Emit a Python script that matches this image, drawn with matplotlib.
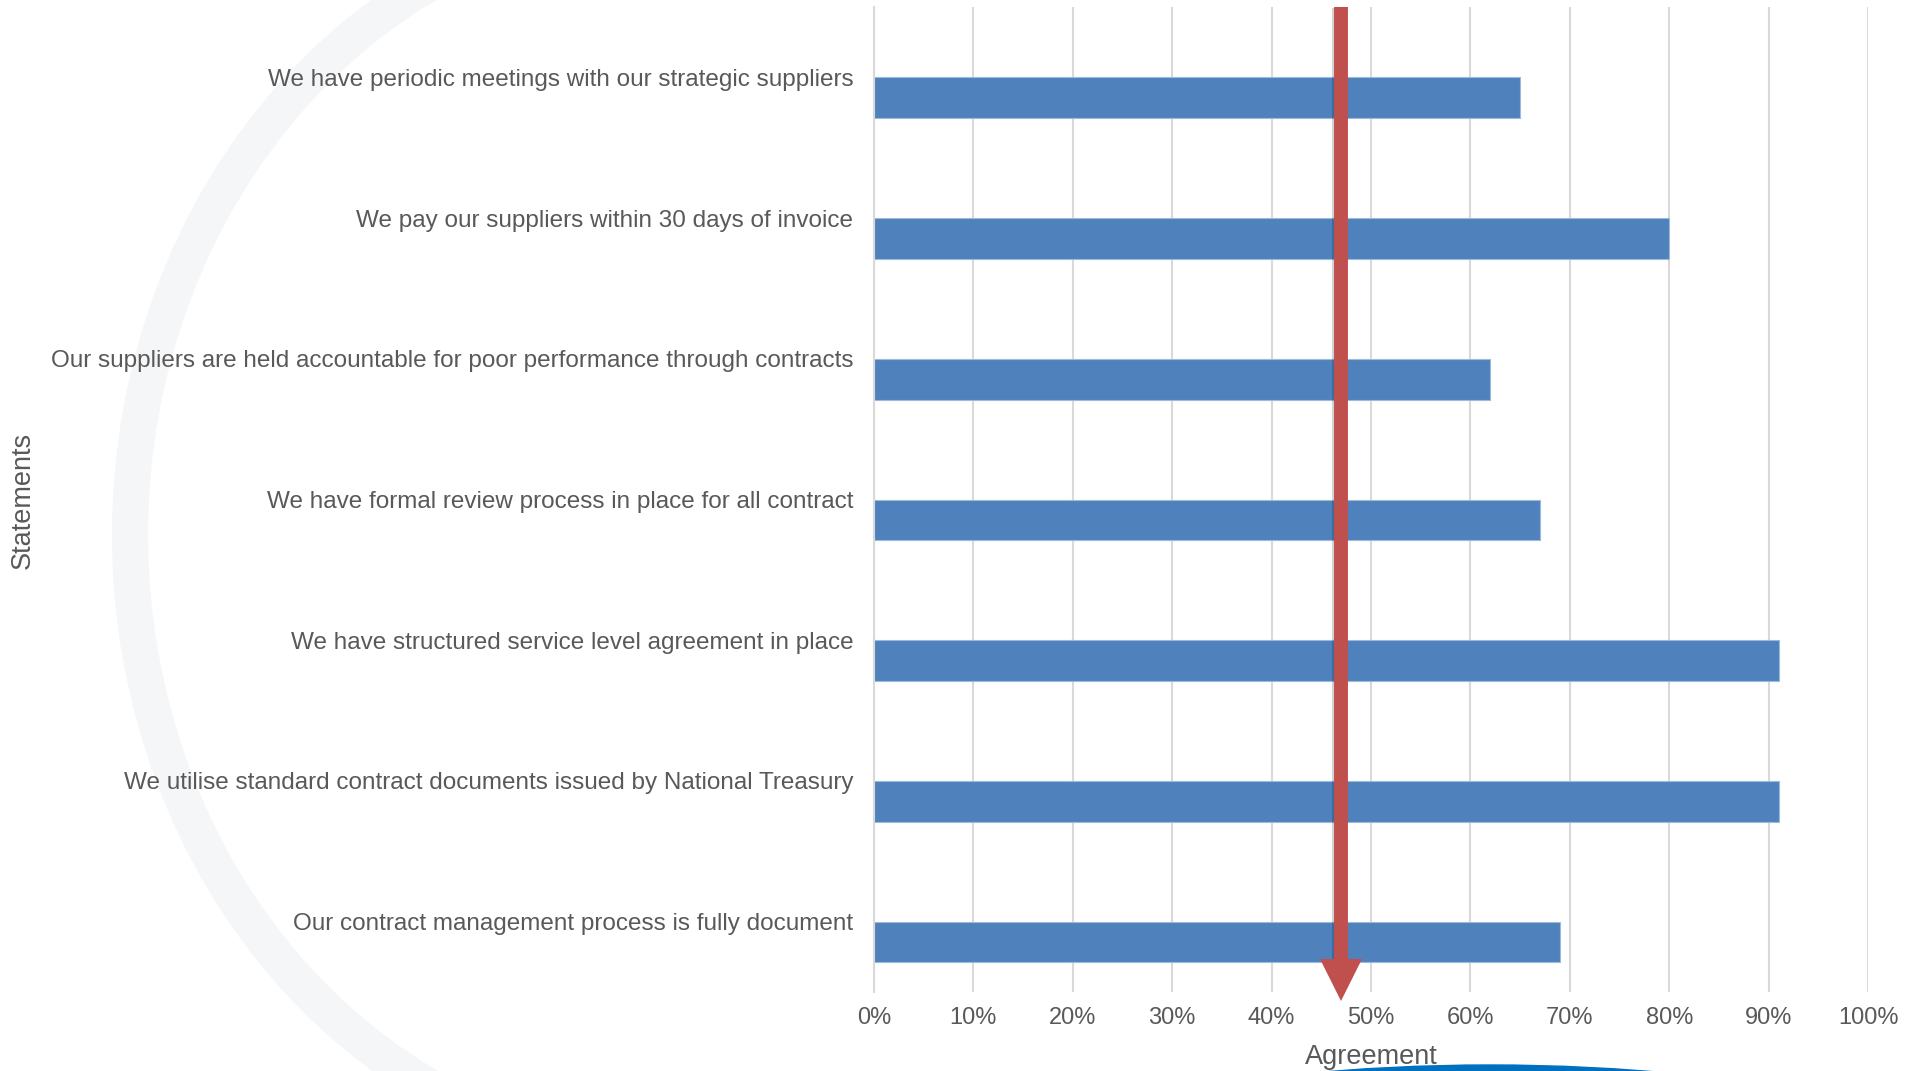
import matplotlib
matplotlib.use("Agg")
import matplotlib.pyplot as plt
import matplotlib.patheffects as pe
from matplotlib.patches import Arc, Circle
from matplotlib.ticker import PercentFormatter

statements = [
    "We have periodic meetings with our strategic suppliers",
    "We pay our suppliers within 30 days of invoice",
    "Our suppliers are held accountable for poor performance through contracts",
    "We have formal review process in place for all contract",
    "We have structured service level agreement in place",
    "We utilise standard contract documents issued by National Treasury",
    "Our contract management process is fully document",
]
agreement = [0.65, 0.80, 0.62, 0.67, 0.91, 0.91, 0.69]
marker_value = 0.47

plt.rcParams["font.family"] = ["Liberation Sans", "DejaVu Sans"]
text_color = "#595959"

W, H = 1919, 1071
fig = plt.figure(figsize=(W / 100, H / 100), dpi=100)

# faint background decorations of the slide
bg = fig.add_axes([0, 0, 1, 1], zorder=-1)
bg.set_xlim(0, W)
bg.set_ylim(H, 0)
bg.axis("off")
bg.add_patch(Arc((686, 535), 2 * 556, 2 * 622, theta1=90, theta2=270,
                 color="#F5F6F8", lw=26))
bg.add_patch(Circle((1490, 3065), 2000, color="#0070C0"))

ax = fig.add_axes([874 / W, (H - 992) / H, 994 / W, 985 / H])
ax.patch.set_alpha(0)

pos = list(range(len(statements)))
ax.barh(pos, agreement, height=0.29, align="edge", color="#4F81BD",
        edgecolor="#9DB9DC", linewidth=0.8, zorder=2)

ax.set_xlim(0, 1)
ax.set_ylim(6.5, -0.5)
ax.set_xticks([i / 10 for i in range(11)])
ax.xaxis.set_major_formatter(PercentFormatter(1.0, decimals=0))
ax.set_yticks(pos)
ax.set_yticklabels(statements)
ax.tick_params(axis="x", length=0, pad=11, labelsize=17, labelcolor=text_color)
ax.tick_params(axis="y", length=0, pad=15, labelsize=17.5, labelcolor=text_color)
ax.grid(axis="x", color="#D9D9D9", lw=1.5, zorder=0)
for s in ["top", "right", "bottom"]:
    ax.spines[s].set_visible(False)
ax.spines["left"].set_color("#D9D9D9")
ax.spines["left"].set_linewidth(1.5)

# red marker line with arrow head
tr = ax.get_xaxis_transform()
shadow = [pe.SimpleLineShadow(offset=(-1.5, -1), alpha=0.18), pe.Normal()]
ax.plot([marker_value, marker_value], [1.0, 0.03], color="#C0504D", lw=10,
        solid_capstyle="butt", transform=tr, clip_on=False, zorder=4,
        path_effects=shadow)
ax.plot([marker_value], [0.012], marker="v", markersize=30, color="#C0504D",
        markeredgewidth=0, transform=tr, clip_on=False, zorder=4)

fig.text(23 / W, 1 - 500 / H, "Statements", rotation=90, ha="center",
         va="center", fontsize=19.5, color=text_color)
fig.text(1371 / W, 1 - 1057 / H, "Agreement", ha="center", va="center",
         fontsize=19.5, color=text_color)

fig.savefig("out.png", dpi=100)
